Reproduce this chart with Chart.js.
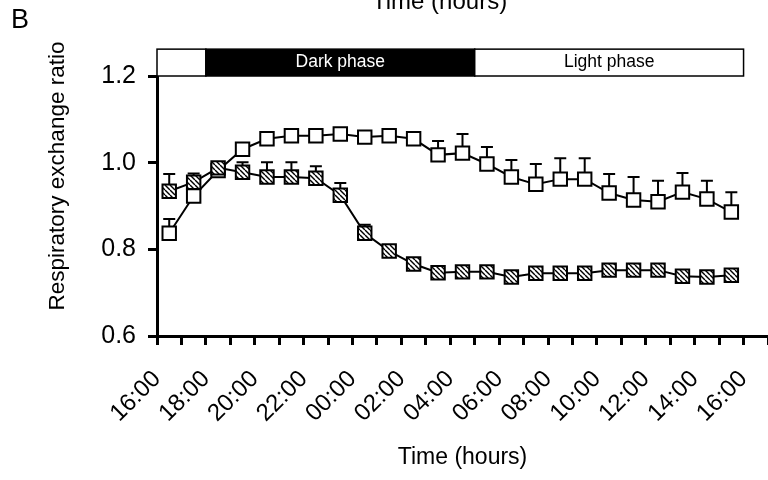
<!DOCTYPE html>
<html lang="en">
<head>
    <meta charset="UTF-8"/>
    <title>Respiratory exchange ratio</title>
    <script src="https://cdn.jsdelivr.net/npm/chart.js"></script>
    <style>
        html, body {
            margin: 0;
            padding: 0;
            background-color: #fff;
            overflow: hidden;
        }
        canvas#rerChart {
            display: block;
        }
    </style>
</head>
<body>
<canvas id="rerChart" width="768" height="480"></canvas>

<script>
    // time of each sample, in hours from midnight of day 1 (16.5 = 16:30)
    const hours = [16.5, 17.5, 18.5, 19.5, 20.5, 21.5, 22.5, 23.5, 24.5, 25.5, 26.5, 27.5,
                   28.5, 29.5, 30.5, 31.5, 32.5, 33.5, 34.5, 35.5, 36.5, 37.5, 38.5, 39.5];

    // open squares
    const rerOpen = [0.837, 0.923, 0.982, 1.031, 1.055, 1.062, 1.062, 1.066, 1.059, 1.062, 1.055, 1.018,
                     1.022, 0.997, 0.967, 0.950, 0.962, 0.962, 0.930, 0.914, 0.910, 0.932, 0.916, 0.886];
    const semOpen = [0.033, 0.020, 0.010, 0.010, 0.010, 0.010, 0.010, 0.010, 0.010, 0.010, 0.010, 0.032,
                     0.044, 0.039, 0.039, 0.047, 0.048, 0.048, 0.044, 0.053, 0.048, 0.044, 0.042, 0.046];

    // hatched squares
    const rerHatched = [0.934, 0.955, 0.988, 0.978, 0.967, 0.967, 0.964, 0.925, 0.837, 0.796, 0.766, 0.746,
                        0.748, 0.748, 0.736, 0.745, 0.745, 0.745, 0.752, 0.752, 0.752, 0.738, 0.736, 0.740];
    const semHatched = [0.040, 0.020, 0.010, 0.023, 0.034, 0.034, 0.028, 0.028, 0.020, 0.008, 0.008, 0.008,
                        0.008, 0.008, 0.008, 0.008, 0.008, 0.008, 0.008, 0.008, 0.008, 0.008, 0.008, 0.008];

    const xTickLabels = ['16:00', '18:00', '20:00', '22:00', '00:00', '02:00', '04:00',
                         '06:00', '08:00', '10:00', '12:00', '14:00', '16:00'];
    const yTickLabels = ['0.6', '0.8', '1.0', '1.2'];

    // light/dark phase bar above the plot
    const phaseEdges = [16, 18, 29, 40];
    const phaseNames = ['', 'Dark phase', 'Light phase'];
    const phaseFills = ['#fff', '#000', '#fff'];
    const phaseTextColors = ['#000', '#fff', '#000'];

    const FONT = '"Liberation Sans", Arial, Helvetica, sans-serif';

    // diagonal hatch fill for the second group
    function makeHatch() {
        const c = document.createElement('canvas');
        c.width = 5;
        c.height = 5;
        const g = c.getContext('2d');
        g.fillStyle = '#fff';
        g.fillRect(0, 0, 5, 5);
        g.strokeStyle = '#000';
        g.lineWidth = 1.4;
        [-5, 0, 5].forEach(k => {
            g.beginPath();
            g.moveTo(k, 0);
            g.lineTo(k + 5, 5);
            g.stroke();
        });
        return g.createPattern(c, 'repeat');
    }

    const decorPlugin = {
        id: 'decor',
        beforeDatasetsDraw(chart) {
            // upper error bars (SEM), drawn under the markers
            const ys = chart.scales.y;
            const ctx = chart.ctx;
            const sems = [semHatched, semOpen];
            ctx.save();
            ctx.strokeStyle = '#000';
            ctx.lineWidth = 2;
            chart.data.datasets.forEach((ds, i) => {
                const meta = chart.getDatasetMeta(i);
                ds.data.forEach((p, j) => {
                    const x = meta.data[j].x;
                    const y0 = ys.getPixelForValue(p.y);
                    const y1 = ys.getPixelForValue(p.y + sems[i][j]);
                    ctx.beginPath();
                    ctx.moveTo(x, y0);
                    ctx.lineTo(x, y1);
                    ctx.moveTo(x - 6, y1);
                    ctx.lineTo(x + 6, y1);
                    ctx.stroke();
                });
            });
            ctx.restore();
        },
        afterDraw(chart) {
            const ctx = chart.ctx;
            const xs = chart.scales.x;
            const ys = chart.scales.y;
            const top = ys.getPixelForValue(1.262);
            const bottom = ys.getPixelForValue(1.2);
            ctx.save();
            for (let i = 0; i < phaseNames.length; i++) {
                const x0 = xs.getPixelForValue(phaseEdges[i]);
                const x1 = xs.getPixelForValue(phaseEdges[i + 1]);
                ctx.fillStyle = phaseFills[i];
                ctx.fillRect(x0, top, x1 - x0, bottom - top);
                ctx.strokeStyle = '#000';
                ctx.lineWidth = 1.5;
                ctx.strokeRect(x0, top, x1 - x0, bottom - top);
                if (phaseNames[i]) {
                    ctx.fillStyle = phaseTextColors[i];
                    ctx.font = '17.5px ' + FONT;
                    ctx.textAlign = 'center';
                    ctx.textBaseline = 'middle';
                    ctx.fillText(phaseNames[i], (x0 + x1) / 2, (top + bottom) / 2);
                }
            }

            // panel letter and the clipped axis title of the panel above
            ctx.fillStyle = '#000';
            ctx.textBaseline = 'alphabetic';
            ctx.textAlign = 'left';
            ctx.font = '27px ' + FONT;
            ctx.fillText('B', 11, 28);
            ctx.font = '24px ' + FONT;
            ctx.fillText('Time (hours)', 372, 9);

            // y axis title
            ctx.translate(64, 176);
            ctx.rotate(-Math.PI / 2);
            ctx.textAlign = 'center';
            ctx.font = '22.5px ' + FONT;
            ctx.fillText('Respiratory exchange ratio', 0, 0);
            ctx.restore();
        }
    };

    const hatch = makeHatch();

    const rerChart = new Chart(document.getElementById('rerChart'), {
        type: 'line',
        data: {
            datasets: [{
                label: 'Hatched',
                data: hours.map((h, i) => ({x: h, y: rerHatched[i]})),
                borderColor: '#000',
                borderWidth: 2,
                pointStyle: 'rect',
                pointRadius: 9.5,
                pointBorderWidth: 2,
                pointBorderColor: '#000',
                pointBackgroundColor: hatch,
                tension: 0
            }, {
                label: 'Open',
                data: hours.map((h, i) => ({x: h, y: rerOpen[i]})),
                borderColor: '#000',
                borderWidth: 2,
                pointStyle: 'rect',
                pointRadius: 9.5,
                pointBorderWidth: 2,
                pointBorderColor: '#000',
                pointBackgroundColor: '#fff',
                tension: 0
            }]
        },
        options: {
            responsive: false,
            animation: false,
            devicePixelRatio: 1,
            layout: {
                autoPadding: false,
                padding: {top: 76, left: 0, right: 0, bottom: 0}
            },
            scales: {
                x: {
                    type: 'linear',
                    min: 16,
                    max: 41,
                    afterFit: scale => {
                        scale.height = 144;
                        scale.paddingRight = 0;
                    },
                    border: {color: '#000', width: 3},
                    grid: {
                        drawOnChartArea: false,
                        drawTicks: true,
                        tickLength: 9,
                        color: '#000',
                        lineWidth: 3
                    },
                    ticks: {
                        stepSize: 1,
                        autoSkip: false,
                        maxRotation: 45,
                        minRotation: 45,
                        color: '#000',
                        padding: 20,
                        font: {family: FONT, size: 24},
                        callback: value => ((value - 16) % 2 === 0 ? xTickLabels[(value - 16) / 2] : '')
                    },
                    title: {
                        display: true,
                        text: 'Time (hours)',
                        color: '#000',
                        font: {family: FONT, size: 23},
                        padding: {top: 0, bottom: 9}
                    }
                },
                y: {
                    min: 0.6,
                    max: 1.2,
                    afterFit: scale => { scale.width = 157; },
                    border: {color: '#000', width: 3},
                    grid: {
                        drawOnChartArea: false,
                        drawTicks: true,
                        tickLength: 9,
                        color: '#000',
                        lineWidth: 3
                    },
                    ticks: {
                        stepSize: 0.2,
                        color: '#000',
                        padding: 12,
                        font: {family: FONT, size: 25},
                        callback: (value, index) => yTickLabels[index]
                    }
                }
            },
            plugins: {
                legend: {display: false},
                tooltip: {enabled: false}
            }
        },
        plugins: [decorPlugin]
    });
</script>
</body>
</html>
